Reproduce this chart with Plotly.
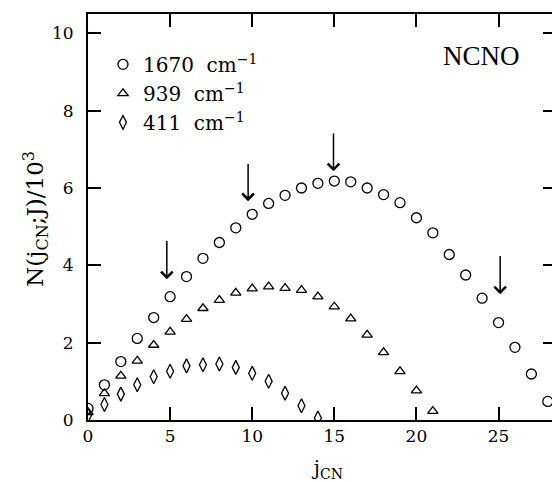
import plotly.graph_objects as go

# ---- data ----
j_1670 = list(range(0, 29))
n_1670 = [0.30, 0.91, 1.51, 2.11, 2.65, 3.19, 3.71, 4.18, 4.59, 4.97, 5.32, 5.60,
          5.81, 6.00, 6.12, 6.18, 6.16, 6.00, 5.83, 5.62, 5.23, 4.84, 4.28, 3.75,
          3.15, 2.52, 1.88, 1.19, 0.48]

j_939 = list(range(0, 22))
n_939 = [0.20, 0.69, 1.14, 1.53, 1.94, 2.28, 2.61, 2.89, 3.10, 3.29, 3.40, 3.45,
         3.41, 3.36, 3.19, 2.93, 2.62, 2.20, 1.75, 1.26, 0.76, 0.23]

j_411 = list(range(0, 15))
n_411 = [0.12, 0.40, 0.67, 0.91, 1.12, 1.26, 1.40, 1.43, 1.45, 1.36, 1.21, 1.00,
         0.69, 0.37, 0.05]

series_names = ["1670&nbsp; cm<sup>−1</sup>", "939&nbsp; cm<sup>−1</sup>", "411&nbsp; cm<sup>−1</sup>"]

arrow_j = [4.8, 9.75, 14.95, 25.1]
arrow_tip = [3.64, 5.66, 6.43, 3.25]
arrow_tail = [4.67, 6.66, 7.45, 4.28]

x_ticks = [0, 5, 10, 15, 20, 25]
y_ticks = [0, 2, 4, 6, 8, 10]

serif = "DejaVu Serif"
times = "Liberation Serif"

fig = go.Figure()
fig.add_trace(go.Scatter(
    x=j_1670, y=n_1670, mode="markers", name=series_names[0], legendgroup="a",
    marker=dict(symbol="circle-open", size=10, color="black", line=dict(width=1.3, color="black")),
))
fig.add_trace(go.Scatter(
    x=j_939, y=n_939, mode="markers", name=series_names[1], legendgroup="b",
    marker=dict(symbol="triangle-up-open", size=9, color="black", line=dict(width=1.3, color="black")),
))
fig.add_trace(go.Scatter(
    x=j_411, y=n_411, mode="markers", name=series_names[2], legendgroup="c",
    marker=dict(symbol="diamond-tall-open", size=10, color="black", line=dict(width=1.3, color="black")),
))

annotations = []
for xa, tip, tail in zip(arrow_j, arrow_tip, arrow_tail):
    annotations.append(dict(
        x=xa, y=tip, ax=xa, ay=tail, xref="x", yref="y", axref="x", ayref="y",
        text="", showarrow=True, arrowhead=4, arrowsize=1.5, arrowwidth=1.5,
        arrowcolor="black",
    ))

annotations.append(dict(
    text="NCNO", x=0.841, y=0.896, xref="paper", yref="paper", showarrow=False,
    xanchor="center", yanchor="middle", font=dict(family=times, size=27, color="black"),
))
annotations.append(dict(
    text="N(j<sub>CN</sub>;J)/10<sup>3</sup>", x=-0.1128, y=0.496, xref="paper", yref="paper",
    showarrow=False, textangle=-90, xanchor="center", yanchor="middle",
    font=dict(family=serif, size=23, color="black"),
))

fig.update_layout(
    width=552, height=474,
    margin=dict(l=80, r=2, t=6, b=61),
    paper_bgcolor="white", plot_bgcolor="white",
    showlegend=True,
    legend=dict(
        x=0.032, y=0.924, xanchor="left", yanchor="top",
        bgcolor="rgba(0,0,0,0)", font=dict(family=serif, size=20, color="black"),
        traceorder="grouped", tracegroupgap=0, itemwidth=30,
    ),
    xaxis=dict(
        range=[0, 28.5], tickvals=x_ticks, ticks="inside", ticklen=13, tickwidth=1.5,
        tickcolor="black", showline=True, linewidth=2, linecolor="black", mirror="ticks",
        showgrid=False, zeroline=False,
        tickfont=dict(family=serif, size=17, color="black"),
        title=dict(text="&nbsp;&nbsp;j<sub>CN</sub>", font=dict(family=serif, size=20, color="black"), standoff=20),
    ),
    yaxis=dict(
        range=[0, 10.5], tickvals=y_ticks, ticks="inside", ticklen=13, tickwidth=1.5,
        tickcolor="black", showline=True, linewidth=2, linecolor="black", mirror="ticks",
        showgrid=False, zeroline=False, ticklabelstandoff=9,
        tickfont=dict(family=serif, size=17, color="black"),
    ),
    annotations=annotations,
)

fig.write_html("out.html")
